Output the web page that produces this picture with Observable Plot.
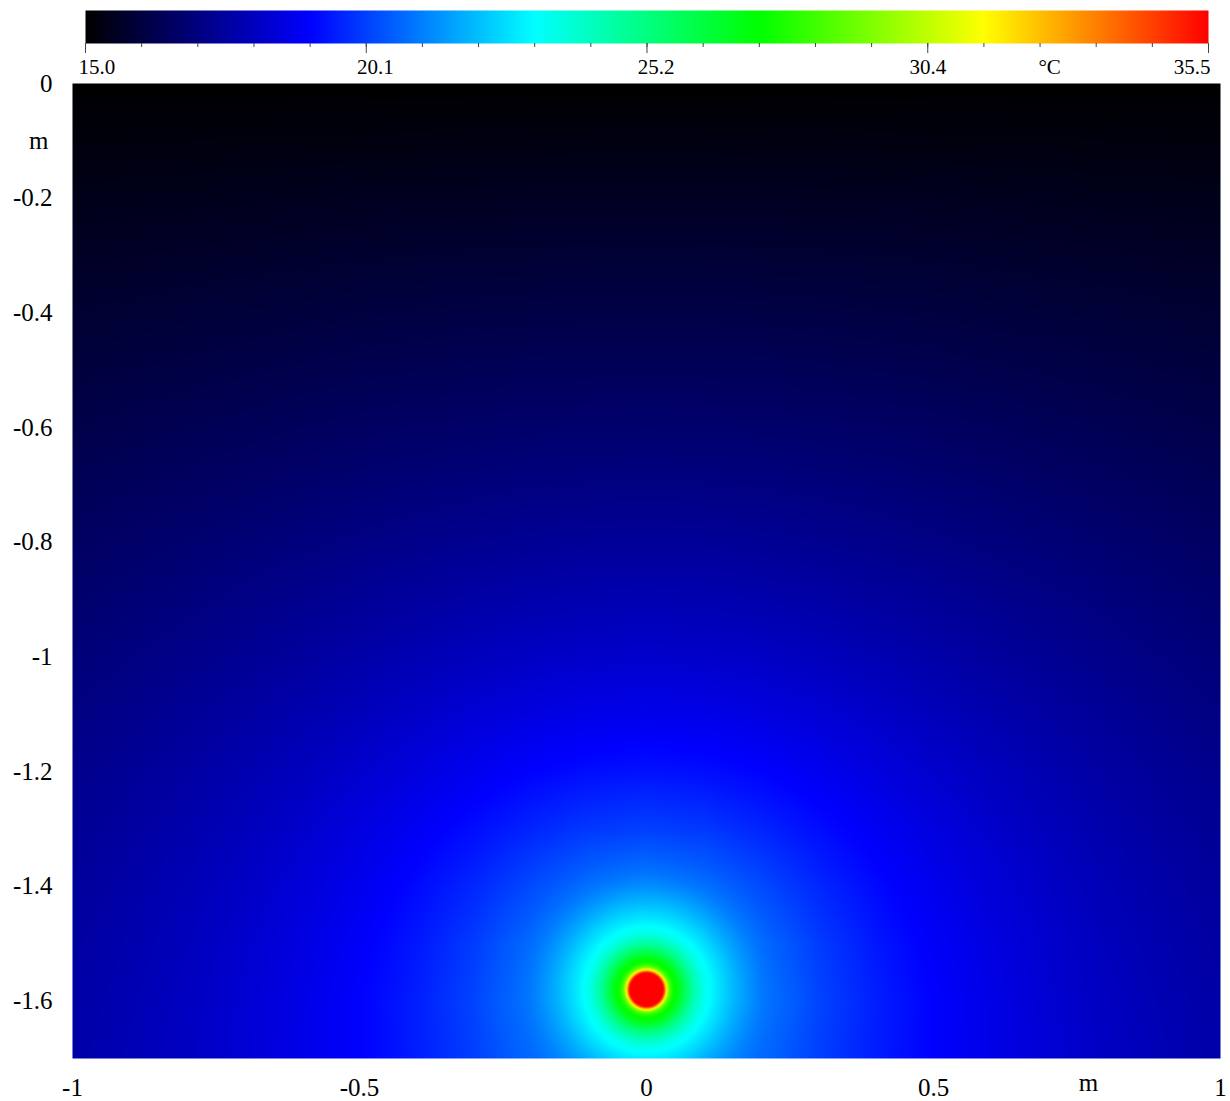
<!DOCTYPE html>
<html>
<head>
<meta charset="utf-8">
<script src="https://cdn.jsdelivr.net/npm/d3@7"></script>
<script src="https://cdn.jsdelivr.net/npm/@observablehq/plot@0.6"></script>
<style>
  body { margin: 0; background: #fff; }
  #chart svg { display: block; overflow: visible; }
</style>
</head>
<body>
<div id="chart"></div>
<script>
// ---- colour bar ----
const colorStops = [15.0, 19.1, 23.2, 27.3, 31.4, 35.5];
const colorRange = ["#000000", "#0000ff", "#00ffff", "#00ff00", "#ffff00", "#ff0000"];
const barTicks = [15.0, 20.125, 25.25, 30.375, 35.5];
const barTickLabels = ["15.0", "20.1", "25.2", "30.4", "35.5"];
const barMinorStep = 1.025;
const barUnit = "°C";
const barUnitAt = 32.6;

// ---- axes ----
const xTicks = [-1, -0.5, 0, 0.5, 1];
const xTickLabels = ["-1", "-0.5", "0", "0.5", "1"];
const yTicks = [0, -0.2, -0.4, -0.6, -0.8, -1, -1.2, -1.4, -1.6];
const yTickLabels = ["0", "-0.2", "-0.4", "-0.6", "-0.8", "-1", "-1.2", "-1.4", "-1.6"];
const unitLabel = "m";

// ---- temperature field (°C) ----
const cableX = 0;
const cableY = -1.58;
// horizontal distance from the cable axis (m)
const gridOffsets = [0, 0.1, 0.2, 0.3, 0.4, 0.5, 0.6, 0.7, 0.8, 0.9, 1.0];
// depth below the surface (m)
const gridDepths = [0, 0.1, 0.2, 0.3, 0.4, 0.5, 0.6, 0.7, 0.8, 0.9, 1.0, 1.1, 1.2, 1.3, 1.4, 1.5, 1.6, 1.7];
const gridTemps = [
  [15.00, 15.00, 15.00, 15.00, 15.00, 15.00, 15.00, 15.00, 15.00, 15.00, 15.00],
  [15.28, 15.28, 15.27, 15.27, 15.26, 15.25, 15.24, 15.23, 15.22, 15.21, 15.20],
  [15.56, 15.56, 15.55, 15.54, 15.53, 15.51, 15.49, 15.47, 15.44, 15.42, 15.40],
  [15.85, 15.84, 15.83, 15.82, 15.79, 15.77, 15.73, 15.70, 15.67, 15.63, 15.60],
  [16.14, 16.13, 16.12, 16.10, 16.06, 16.03, 15.98, 15.94, 15.89, 15.84, 15.79],
  [16.44, 16.44, 16.42, 16.38, 16.34, 16.29, 16.23, 16.17, 16.11, 16.05, 15.99],
  [16.76, 16.75, 16.72, 16.68, 16.63, 16.56, 16.49, 16.41, 16.34, 16.26, 16.18],
  [17.09, 17.08, 17.05, 16.99, 16.92, 16.84, 16.75, 16.65, 16.56, 16.47, 16.38],
  [17.45, 17.44, 17.39, 17.32, 17.23, 17.12, 17.01, 16.90, 16.78, 16.67, 16.56],
  [17.85, 17.83, 17.76, 17.67, 17.55, 17.42, 17.28, 17.14, 17.00, 16.87, 16.75],
  [18.28, 18.25, 18.17, 18.04, 17.88, 17.71, 17.54, 17.37, 17.21, 17.06, 16.92],
  [18.78, 18.74, 18.61, 18.44, 18.23, 18.01, 17.80, 17.60, 17.42, 17.24, 17.08],
  [19.38, 19.31, 19.12, 18.86, 18.58, 18.31, 18.05, 17.82, 17.60, 17.41, 17.24],
  [20.13, 20.00, 19.68, 19.30, 18.93, 18.59, 18.28, 18.01, 17.77, 17.56, 17.37],
  [21.18, 20.88, 20.30, 19.72, 19.24, 18.82, 18.48, 18.18, 17.92, 17.69, 17.49],
  [23.03, 22.00, 20.86, 20.06, 19.47, 19.00, 18.62, 18.30, 18.03, 17.79, 17.58],
  [35.50, 22.57, 21.08, 20.20, 19.58, 19.10, 18.71, 18.38, 18.10, 17.86, 17.65],
  [22.28, 21.70, 20.82, 20.11, 19.55, 19.10, 18.73, 18.42, 18.14, 17.92, 17.70]
];
// near the cable: temperature against distance from the cable centre (m)
const ringRadii = [0, 0.020, 0.026, 0.030, 0.033, 0.036, 0.040, 0.046, 0.055, 0.064, 0.072, 0.085, 0.100, 0.120, 0.150, 0.200, 0.250];
const ringTemps = [38.0, 37.0, 36.0, 35.2, 32.8, 30.8, 28.8, 27.6, 27.0, 26.2, 25.4, 24.4, 23.5, 22.9, 22.1, 21.1, 20.4];
const blendFrom = 0.15, blendTo = 0.25;

// ---- lookup helpers (interpolate the tables above) ----
function interp1(xs, ys, v) {
  const n = xs.length;
  if (v <= xs[0]) return ys[0];
  if (v >= xs[n - 1]) return ys[n - 1];
  const i = Math.min(d3.bisectRight(xs, v) - 1, n - 2);
  const t = (v - xs[i]) / (xs[i + 1] - xs[i]);
  return ys[i] * (1 - t) + ys[i + 1] * t;
}
function gridAt(x, y) {
  const ox = Math.min(Math.abs(x - cableX), gridOffsets[gridOffsets.length - 1]);
  const dz = Math.min(Math.max(-y, 0), gridDepths[gridDepths.length - 1]);
  const i = Math.min(Math.max(d3.bisectRight(gridOffsets, ox) - 1, 0), gridOffsets.length - 2);
  const j = Math.min(Math.max(d3.bisectRight(gridDepths, dz) - 1, 0), gridDepths.length - 2);
  const tx = (ox - gridOffsets[i]) / (gridOffsets[i + 1] - gridOffsets[i]);
  const tz = (dz - gridDepths[j]) / (gridDepths[j + 1] - gridDepths[j]);
  const a = gridTemps[j][i], b = gridTemps[j][i + 1];
  const c = gridTemps[j + 1][i], d = gridTemps[j + 1][i + 1];
  return (a * (1 - tx) + b * tx) * (1 - tz) + (c * (1 - tx) + d * tx) * tz;
}
function temperatureAt(x, y) {
  const r = Math.hypot(x - cableX, y - cableY);
  if (r <= blendFrom) return interp1(ringRadii, ringTemps, r);
  const g = gridAt(x, y);
  if (r >= blendTo) return g;
  const w = (r - blendFrom) / (blendTo - blendFrom);
  return interp1(ringRadii, ringTemps, r) * (1 - w) + g * w;
}

const colorScale = {
  type: "linear",
  domain: colorStops,
  range: colorRange,
  interpolate: "rgb",
  clamp: true
};
const font = "'Liberation Serif', 'Times New Roman', Times, serif";
const minorTicks = d3.range(0, 21).map(k => barTicks[0] + k * barMinorStep);

// ---- colour bar plot ----
const bar = Plot.plot({
  width: 1230,
  height: 74,
  marginTop: 10,
  marginBottom: 31,
  marginLeft: 85,
  marginRight: 22,
  x: {domain: [barTicks[0], barTicks[barTicks.length - 1]]},
  y: {domain: [0, 1], axis: null},
  color: colorScale,
  style: {fontFamily: font, background: "transparent", color: "#000"},
  marks: [
    Plot.raster({fill: (x, y) => x, x1: barTicks[0], x2: barTicks[barTicks.length - 1], y1: 0, y2: 1, pixelSize: 1}),
    Plot.axisX(minorTicks, {tickSize: 4, tickFormat: () => "", stroke: "#444", label: null}),
    Plot.axisX(barTicks, {tickSize: 10, tickFormat: () => "", stroke: "#444", label: null}),
    Plot.text([0], {x: i => barTicks[i], text: i => barTickLabels[i], frameAnchor: "bottom", lineAnchor: "top", dy: 16, dx: -7, textAnchor: "start", fontSize: 21, fill: "#000"}),
    Plot.text([1, 2], {x: i => barTicks[i], text: i => barTickLabels[i], frameAnchor: "bottom", lineAnchor: "top", dy: 16, dx: 9, textAnchor: "middle", fontSize: 21, fill: "#000"}),
    Plot.text([3], {x: i => barTicks[i], text: i => barTickLabels[i], frameAnchor: "bottom", lineAnchor: "top", dy: 16, textAnchor: "middle", fontSize: 21, fill: "#000"}),
    Plot.text([4], {x: i => barTicks[i], text: i => barTickLabels[i], frameAnchor: "bottom", lineAnchor: "top", dy: 16, dx: 2, textAnchor: "end", fontSize: 21, fill: "#000"}),
    Plot.text([barUnit], {x: barUnitAt, text: d => d, frameAnchor: "bottom", lineAnchor: "top", dy: 16, textAnchor: "middle", fontSize: 21, fill: "#000"})
  ]
});

// ---- main temperature map ----
const main = Plot.plot({
  width: 1230,
  height: 1027,
  marginTop: 9,
  marginBottom: 43,
  marginLeft: 72,
  marginRight: 10,
  x: {domain: [-1, 1]},
  y: {domain: [-1.7, 0]},
  color: colorScale,
  style: {fontFamily: font, background: "transparent", color: "#000"},
  marks: [
    Plot.raster({fill: temperatureAt, x1: -1, x2: 1, y1: -1.7, y2: 0, pixelSize: 1}),
    Plot.axisX(xTicks, {tickSize: 0, tickPadding: 20, tickFormat: d => xTickLabels[xTicks.indexOf(d)], fontSize: 25, label: null}),
    Plot.axisY(yTicks, {tickSize: 0, tickPadding: 20, tickFormat: d => yTickLabels[yTicks.indexOf(d)], fontSize: 25, label: null}),
    Plot.text([unitLabel], {x: -1, y: -0.1, text: d => d, dx: -24, textAnchor: "end", fontSize: 25, fill: "#000"}),
    Plot.text([unitLabel], {x: 0.77, y: -1.7, text: d => d, dy: 24, textAnchor: "middle", fontSize: 25, fill: "#000"})
  ]
});

const host = document.getElementById("chart");
host.appendChild(bar);
host.appendChild(main);
</script>
</body>
</html>
